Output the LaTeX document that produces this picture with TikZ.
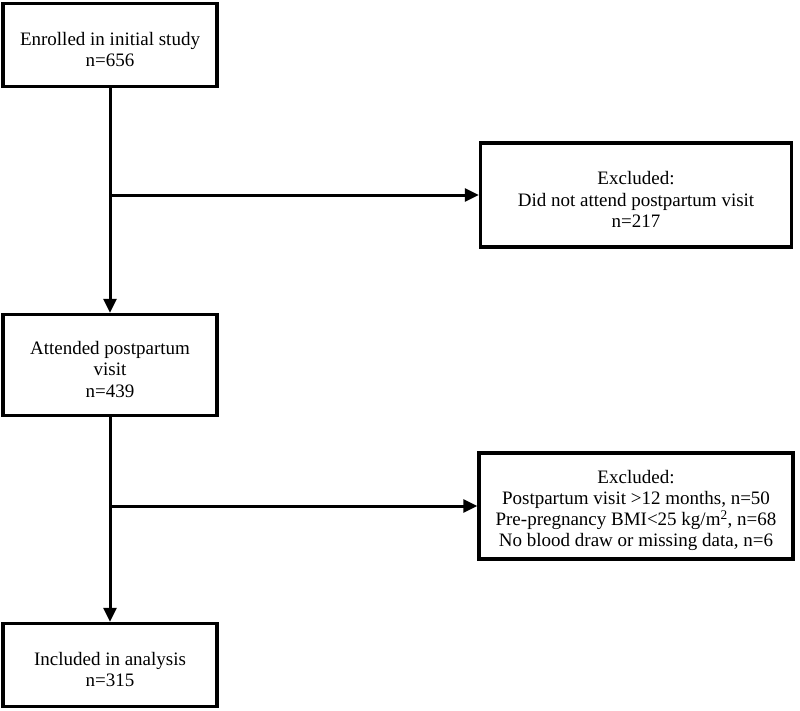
\documentclass[tikz,border=0pt]{standalone}
\usepackage{fontspec}
\setmainfont{Liberation Serif}
\usetikzlibrary{arrows.meta}
\newcommand\toppad{\rule{0pt}{22pt}}
\begin{document}
\begin{tikzpicture}[x=1pt,y=-1pt,
  flowbox/.style={draw=black, line width=3.5pt, rectangle, align=center, inner sep=0pt,
    font=\fontsize{19}{21.2}\selectfont},
  conn/.style={line width=3pt, -{Triangle[length=14pt,width=13pt]}}]
\useasboundingbox (0,0) rectangle (800,710);
\fill[white] (0,0) rectangle (800,710);
\node[flowbox, minimum width=214pt, minimum height=83pt] (b1) at (110,45) {\toppad Enrolled in initial study\\n=656};
\node[flowbox, minimum width=214pt, minimum height=101pt] (b2) at (110,365) {\toppad Attended postpartum\\visit\\n=439};
\node[flowbox, minimum width=214pt, minimum height=83pt] (b5) at (110,665) {\toppad Included in analysis\\n=315};
\node[flowbox, minimum width=311pt, minimum height=104pt] (b3) at (636,195) {\toppad Excluded:\\Did not attend postpartum visit\\n=217};
\node[flowbox, minimum width=314pt, minimum height=106pt] (b4) at (636,506) {\toppad Excluded:\\Postpartum visit >12 months, n=50\\Pre-pregnancy BMI<25 kg/m\textsuperscript{2}, n=68\\No blood draw or missing data, n=6};
\coordinate (j1) at (110,195);
\coordinate (j2) at (110,506);
\draw[conn] (b1.south) -- (b2.north);
\draw[conn] (j1) -- (b3.west);
\draw[conn] (b2.south) -- (b5.north);
\draw[conn] (j2) -- (b4.west);
\end{tikzpicture}
\end{document}
